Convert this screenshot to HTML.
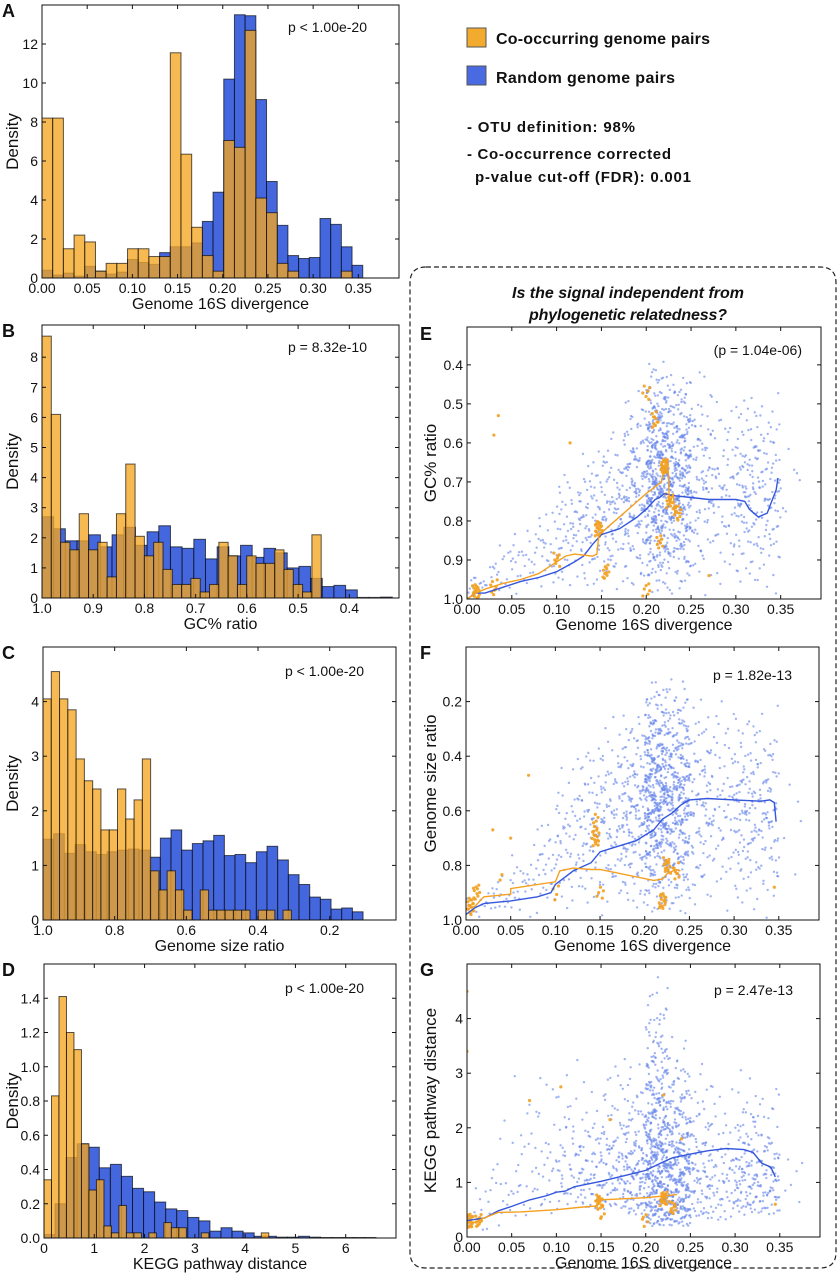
<!DOCTYPE html>
<html><head><meta charset="utf-8"><style>
html,body{margin:0;padding:0;background:#fff;}
svg{display:block;font-family:"Liberation Sans",sans-serif;}
</style></head><body>
<svg id="fig" width="839" height="1280" viewBox="0 0 839 1280" xmlns="http://www.w3.org/2000/svg">
<g>
<rect x="467" y="28" width="19" height="19" fill="#f2ab2e" stroke="#555"/>
<text x="496" y="44" font-size="16" font-weight="bold" fill="#111" textLength="214">Co-occurring genome pairs</text>
<rect x="467" y="66" width="19" height="19" fill="#4a6ae2" stroke="#555"/>
<text x="496" y="83" font-size="16" font-weight="bold" fill="#111" textLength="179">Random genome pairs</text>
<text x="467" y="132" font-size="15" font-weight="bold" fill="#111" textLength="168">- OTU definition: 98%</text>
<text x="467" y="159" font-size="15" font-weight="bold" fill="#111" textLength="204">- Co-occurrence corrected</text>
<text x="475" y="182" font-size="15" font-weight="bold" fill="#111" textLength="216">p-value cut-off (FDR): 0.001</text>
</g>
<path d="M426,267 H820 Q836,267 836,283 V1252 Q836,1268 820,1268 H426 Q410,1268 410,1252 V283 Q410,267 426,267 Z" fill="none" stroke="#222" stroke-width="1.2" stroke-dasharray="5,3"/>
<text x="628" y="298" font-size="16" font-weight="bold" font-style="italic" text-anchor="middle" fill="#111" textLength="232">Is the signal independent from</text>
<text x="628" y="320" font-size="16" font-weight="bold" font-style="italic" text-anchor="middle" fill="#111" textLength="198">phylogenetic relatedness?</text>
</svg>
<script>
// ---------- Histogram data ----------
const aOrange = [8.2,8.2,1.5,2.2,1.85,0.35,0.75,0.75,1.5,1.5,1.1,1.1,11.55,6.35,2.6,1.15,0.35,7.05,6.7,12.7,4.1,3.35,0.75,0.35,0,0,0,0,0.35,0];
const aBlue = [0.4,0.15,0.25,0.1,0.6,0.35,0.2,0.3,0.95,0.8,0.7,1.3,1.6,1.6,1.8,2.9,4.4,10.2,13.5,13.45,9.15,4.95,2.7,1.15,1.0,1.05,3.05,2.75,1.6,0.65];
const bOrange = [8.7,6.1,1.85,1.6,2.8,1.6,1.85,0.7,2.8,4.45,2.05,1.4,1.85,0.95,0.45,0.45,0.65,0.2,0.45,1.85,1.4,0.45,1.4,1.15,1.15,1.6,0.95,0.45,0.2,2.1];
const bBlue = [2.7,2.3,1.9,1.9,2.1,1.7,2.1,2.35,1.75,2.2,2.4,1.7,1.65,1.95,1.3,1.7,1.4,1.75,1.35,1.65,1.5,1.0,1.05,0.65,0.38,0.42,0.27,0.02,0.02,0.03];
const cOrange = [4.05,4.55,4.05,3.85,2.95,2.55,2.4,1.65,1.65,2.4,1.85,2.2,2.95,0.9,0.55,0.9,0.55,0.18,0,0.55,0.18,0.18,0.18,0.18,0.18,0,0.18,0.18,0,0.18];
const cBlue = [1.48,1.58,1.22,1.38,1.25,1.2,1.25,1.28,1.3,1.28,1.15,1.5,1.65,1.28,1.4,1.45,1.55,1.18,1.2,1.05,1.25,1.35,1.1,0.83,0.65,0.42,0.38,0.2,0.22,0.15];
const dOrange = [0.34,0.83,1.41,1.2,1.1,0.55,0.28,0.34,0.07,0.03,0.19,0.03,0.03,0,0.03,0,0.09,0.06,0.06,0,0,0.03,0,0,0,0,0,0,0,0.03];
const dBlue = [0.02,0.2,0.47,0.55,0.53,0.41,0.43,0.36,0.29,0.27,0.21,0.17,0.16,0.12,0.1,0.04,0.06,0.04,0.03,0.01,0.01,0.005,0.005,0.01,0.005,0.003,0.003,0.003,0.003,0.003];
const histBins = {A:[0,0.01183,0,0.01183], B:[1.0,-0.01817,1.0,-0.0228], C:[1.0,-0.0231,1.0,-0.02977], D:[0,0.149,0,0.22]};

// ---------- Scatter data (per 0.025-wide divergence bin: count, y-low, y-high) ----------
const scatBinStart = [0,0.025,0.05,0.075,0.1,0.125,0.15,0.175,0.2,0.225,0.25,0.275,0.3,0.325,0.35];
const scatCounts = [12,18,22,30,50,70,90,150,480,340,100,60,110,90,6];
const eLow = [0.93,0.85,0.8,0.75,0.65,0.6,0.55,0.45,0.38,0.4,0.4,0.45,0.45,0.45,0.55];
const eHigh = [1.0,1.0,1.0,1.0,1.0,1.0,1.0,1.0,1.0,1.0,1.0,1.0,1.0,1.0,0.85];
const fLow = [0.9,0.82,0.75,0.6,0.4,0.3,0.25,0.2,0.1,0.1,0.15,0.15,0.2,0.2,0.4];
const fHigh = [1.0,1.0,1.0,1.0,1.0,1.0,1.0,1.0,1.0,1.0,1.0,1.0,1.0,1.0,0.9];
const gLow = [0.1,0.2,0.3,0.4,0.5,0.5,0.5,0.4,0.2,0.2,0.3,0.3,0.4,0.4,0.6];
const gHigh = [1.2,2.5,3.5,3.5,3.5,3.0,3.5,3.5,4.9,3.8,3.5,3.0,3.2,3.0,1.8];
// orange clusters: x, y, n
const eOrangeX = [0.01,0.03,0.1,0.147,0.155,0.2,0.21,0.22,0.226,0.235,0.215,0.2,0.03,0.035,0.115,0.27];
const eOrangeY = [0.98,0.97,0.9,0.82,0.93,0.47,0.54,0.66,0.75,0.78,0.85,0.98,0.58,0.53,0.6,0.94];
const eOrangeN = [15,8,8,20,10,6,10,20,10,10,8,6,1,1,1,1];
const fOrangeX = [0.005,0.012,0.145,0.145,0.15,0.1,0.225,0.22,0.235,0.07,0.03,0.05,0.04,0.345];
const fOrangeY = [0.95,0.9,0.7,0.64,0.9,0.9,0.8,0.93,0.82,0.47,0.67,0.7,0.85,0.88];
const fOrangeN = [15,10,15,6,5,4,15,15,8,1,1,1,2,1];
const gOrangeX = [0.003,0.013,0.148,0.15,0.22,0.23,0.2,0.0,0.0,0.07,0.105,0.16,0.22,0.24,0.345];
const gOrangeY = [0.3,0.3,0.65,0.45,0.7,0.55,0.3,4.5,3.4,2.5,2.75,2.15,2.6,1.8,0.6];
const gOrangeN = [20,10,15,5,20,10,5,1,1,1,1,1,1,1,1];
// running-mean lines
const eBlueLX = [0,0.01,0.02,0.04,0.06,0.08,0.1,0.12,0.13,0.14,0.15,0.17,0.19,0.2,0.21,0.215,0.22,0.23,0.25,0.27,0.3,0.31,0.315,0.325,0.335,0.34,0.345,0.347];
const eBlueLY = [1.0,0.985,0.985,0.97,0.955,0.945,0.93,0.905,0.89,0.86,0.835,0.82,0.79,0.77,0.745,0.74,0.73,0.735,0.74,0.745,0.745,0.75,0.77,0.79,0.78,0.75,0.72,0.69];
const eOrLX = [0,0.01,0.02,0.04,0.06,0.08,0.1,0.11,0.12,0.14,0.145,0.147,0.15,0.155,0.2,0.217,0.22,0.224,0.226,0.23,0.232,0.24];
const eOrLY = [1.0,0.985,0.975,0.96,0.95,0.935,0.905,0.89,0.885,0.89,0.885,0.84,0.83,0.82,0.73,0.7,0.66,0.64,0.76,0.73,0.78,0.78];
const fBlueLX = [0,0.01,0.02,0.05,0.08,0.095,0.1,0.12,0.14,0.15,0.17,0.19,0.2,0.21,0.22,0.23,0.24,0.25,0.27,0.3,0.33,0.34,0.345,0.347];
const fBlueLY = [0.98,0.955,0.94,0.93,0.915,0.9,0.87,0.82,0.79,0.75,0.73,0.71,0.69,0.67,0.63,0.61,0.58,0.56,0.555,0.56,0.565,0.56,0.57,0.64];
const fOrLX = [0,0.01,0.02,0.05,0.05,0.1,0.105,0.12,0.14,0.15,0.21,0.22,0.225,0.235,0.24];
const fOrLY = [0.96,0.95,0.915,0.905,0.885,0.86,0.82,0.81,0.815,0.815,0.855,0.85,0.83,0.815,0.82];
const gBlueLX = [0,0.02,0.035,0.05,0.07,0.09,0.1,0.11,0.12,0.15,0.18,0.2,0.21,0.22,0.23,0.25,0.27,0.29,0.31,0.32,0.33,0.34,0.345];
const gBlueLY = [0.3,0.35,0.48,0.56,0.68,0.76,0.82,0.84,0.92,1.02,1.14,1.22,1.3,1.38,1.45,1.52,1.58,1.62,1.6,1.55,1.35,1.28,1.1];
const gOrLX = [0,0.012,0.015,0.035,0.06,0.1,0.13,0.145,0.148,0.2,0.22,0.235];
const gOrLY = [0.25,0.28,0.32,0.45,0.46,0.5,0.55,0.57,0.68,0.72,0.75,0.78];

// ---------- ticks ----------
const divTicks = [0,0.05,0.1,0.15,0.2,0.25,0.3,0.35];
const divTickLabels = ["0.00","0.05","0.10","0.15","0.20","0.25","0.30","0.35"];

const NS = "http://www.w3.org/2000/svg";
const svg = document.getElementById('fig');
function mk(tag, attrs, parent){
  const e = document.createElementNS(NS, tag);
  for (const k in attrs) e.setAttribute(k, attrs[k]);
  (parent||svg).appendChild(e);
  return e;
}
function halton(i,b){let f=1,r=0;while(i>0){f/=b;r+=f*(i%b);i=Math.floor(i/b);}return r;}

function makePanel(p){
  const g = mk('g', {});
  
  
  p.sx = v => p.L + (v - p.xd[0]) / (p.xd[1] - p.xd[0]) * (p.R - p.L);
  p.sy = v => p.B - (v - p.yd[0]) / (p.yd[1] - p.yd[0]) * (p.B - p.T);
  p.g = g;
  const clip = mk('clipPath', {id:'clip'+p.id}, g);
  mk('rect', {x:p.L, y:p.T, width:p.R-p.L, height:p.B-p.T}, clip);
  p.plot = mk('g', {'clip-path':'url(#clip'+p.id+')'}, g);
  
  
  return p;
}
function finishPanel(p){
  const g = p.g;
  const fr = mk('rect', {x:p.L, y:p.T, width:p.R-p.L, height:p.B-p.T, fill:'none', stroke:'#111', 'stroke-width':1}, g);
  
  
  p.xt.forEach((v,i)=>{
    const x = p.sx(v);
    mk('line', {x1:x, x2:x, y1:p.B, y2:p.B-4, stroke:'#111'}, g);
    mk('line', {x1:x, x2:x, y1:p.T, y2:p.T+4, stroke:'#111'}, g);
    const t = mk('text', {x:x, y:p.B+15, 'font-size':14, 'text-anchor':'middle', fill:'#111'}, g);
    t.textContent = p.xl[i];
    
    
  });
  p.yt.forEach((v,i)=>{
    const y = p.sy(v);
    mk('line', {x1:p.L, x2:p.L+4, y1:y, y2:y, stroke:'#111'}, g);
    mk('line', {x1:p.R, x2:p.R-4, y1:y, y2:y, stroke:'#111'}, g);
    const t = mk('text', {x:p.L-4, y:y+5, 'font-size':14, 'text-anchor':'end', fill:'#111'}, g);
    t.textContent = p.yl[i];
    
    
  });
  const xt = mk('text', {x:(p.L+p.R)/2, y:p.B+31, 'font-size':16, 'text-anchor':'middle', fill:'#111'}, g);
  xt.textContent = p.xtitle;
  
  
  const cy = (p.T+p.B)/2, cx = p.ylx;
  const yt = mk('text', {x:cx, y:cy, 'font-size':17, 'text-anchor':'middle', fill:'#111', transform:'rotate(-90 '+cx+' '+cy+')'}, g);
  yt.textContent = p.ytitle;
  
  
  const pv = mk('text', {x:p.R-p.pvr, y:p.T+p.pvy, 'font-size':14, 'text-anchor':'end', fill:'#111'}, g);
  pv.textContent = p.pval;
  
  
  const lt = mk('text', {x:p.lx, y:p.ly, 'font-size':18, 'font-weight':'bold', fill:'#111'}, g);
  lt.textContent = p.id;
  
  
}
function drawHist(p, vals, start, w, fill, op, name){
  vals.forEach((v,i)=>{
    if (v <= 0) return;
    const a = p.sx(start + i*w), b = p.sx(start + (i+1)*w);
    const r = mk('rect', {x:Math.min(a,b), y:p.sy(v), width:Math.abs(b-a), height:p.sy(0)-p.sy(v), fill:fill, 'fill-opacity':op, stroke:'#000', 'stroke-opacity':0.65, 'stroke-width':1}, p.plot);
    
    
  });
}
let hIdx = 1;
function drawScatter(p, lows, highs, skew){
  scatCounts.forEach((n,k)=>{
    for (let j=0;j<n;j++){
      hIdx++;
      const x = scatBinStart[k] + halton(hIdx,2)*0.025;
      let t = (halton(hIdx,3)+halton(hIdx,5))/2;
      t = Math.pow(t, skew);
      const y = lows[k] + (highs[k]-lows[k])*t;
      const c = mk('circle', {cx:p.sx(x), cy:p.sy(y), r:1.2, fill:'#6382ea', 'fill-opacity':0.6}, p.plot);
      
      
    }
  });
}
function drawClusters(p, xs, ys, ns, ysp){
  xs.forEach((x0,k)=>{
    for (let j=0;j<ns[k];j++){
      hIdx++;
      const x = x0 + (ns[k]>1 ? (halton(hIdx,2)-0.5)*0.008 : 0);
      const y = ys[k] + (ns[k]>1 ? (halton(hIdx,3)-0.5)*ysp : 0);
      const c = mk('circle', {cx:p.sx(x), cy:p.sy(y), r:1.6, fill:'#f2a020', 'fill-opacity':0.9}, p.plot);
      
      
    }
  });
}
function drawLine(p, xs, ys, color, name){
  const pts = xs.map((x,i)=>p.sx(x).toFixed(1)+','+p.sy(ys[i]).toFixed(1)).join(' ');
  const l = mk('polyline', {points:pts, fill:'none', stroke:color, 'stroke-width':1.4}, p.plot);
  
  
}

// Panel A
const pA = makePanel({id:'A', L:42,R:399,T:5,B:278, xd:[0,0.395], yd:[0,14],
  xt:divTicks, xl:divTickLabels, yt:[0,2,4,6,8,10,12], yl:["0","2","4","6","8","10","12"],
  xtitle:'Genome 16S divergence', ytitle:'Density', ylx:18, pval:'p < 1.00e-20', pvr:32, pvy:27, lx:2, ly:17});
drawHist(pA, aBlue, histBins.A[2], histBins.A[3], '#4567de', 1, 'bar-random');
drawHist(pA, aOrange, histBins.A[0], histBins.A[1], '#f5a623', 0.78, 'bar-co-occurring');
finishPanel(pA);
// Panel B
const pB = makePanel({id:'B', L:42,R:399,T:325,B:598, xd:[1.0,0.303], yd:[0,9.07],
  xt:[1.0,0.9,0.8,0.7,0.6,0.5,0.4], xl:["1.0","0.9","0.8","0.7","0.6","0.5","0.4"], yt:[0,1,2,3,4,5,6,7,8], yl:["0","1","2","3","4","5","6","7","8"],
  xtitle:'GC% ratio', ytitle:'Density', ylx:18, pval:'p = 8.32e-10', pvr:32, pvy:27, lx:2, ly:337});
drawHist(pB, bBlue, histBins.B[2], histBins.B[3], '#4567de', 1, 'bar-random');
drawHist(pB, bOrange, histBins.B[0], histBins.B[1], '#f5a623', 0.78, 'bar-co-occurring');
finishPanel(pB);
// Panel C
const pC = makePanel({id:'C', L:43,R:396,T:647,B:920, xd:[1.0,0.015], yd:[0,5.0],
  xt:[1.0,0.8,0.6,0.4,0.2], xl:["1.0","0.8","0.6","0.4","0.2"], yt:[0,1,2,3,4], yl:["0","1","2","3","4"],
  xtitle:'Genome size ratio', ytitle:'Density', ylx:18, pval:'p < 1.00e-20', pvr:32, pvy:29, lx:2, ly:659});
drawHist(pC, cBlue, histBins.C[2], histBins.C[3], '#4567de', 1, 'bar-random');
drawHist(pC, cOrange, histBins.C[0], histBins.C[1], '#f5a623', 0.78, 'bar-co-occurring');
finishPanel(pC);
// Panel D
const pD = makePanel({id:'D', L:44,R:396,T:964,B:1238, xd:[0,7.0], yd:[0,1.6],
  xt:[0,1,2,3,4,5,6], xl:["0","1","2","3","4","5","6"], yt:[0,0.2,0.4,0.6,0.8,1.0,1.2,1.4], yl:["0.0","0.2","0.4","0.6","0.8","1.0","1.2","1.4"],
  xtitle:'KEGG pathway distance', ytitle:'Density', ylx:18, pval:'p < 1.00e-20', pvr:32, pvy:29, lx:2, ly:976});
drawHist(pD, dBlue, histBins.D[2], histBins.D[3], '#4567de', 1, 'bar-random');
drawHist(pD, dOrange, histBins.D[0], histBins.D[1], '#f5a623', 0.78, 'bar-co-occurring');
finishPanel(pD);
// Panel E
const pE = makePanel({id:'E', L:467,R:821,T:327,B:599, xd:[0,0.395], yd:[1.0,0.303],
  xt:divTicks, xl:divTickLabels, yt:[0.4,0.5,0.6,0.7,0.8,0.9,1.0], yl:["0.4","0.5","0.6","0.7","0.8","0.9","1.0"],
  xtitle:'Genome 16S divergence', ytitle:'GC% ratio', ylx:436, pval:'(p = 1.04e-06)', pvr:19, pvy:28, lx:420, ly:340});
drawScatter(pE, eLow, eHigh, 1);
drawClusters(pE, eOrangeX, eOrangeY, eOrangeN, 0.04);
drawLine(pE, eBlueLX, eBlueLY, '#3557dc', 'running-mean-random');
drawLine(pE, eOrLX, eOrLY, '#f5a020', 'running-mean-co-occurring');
finishPanel(pE);
// Panel F
const pF = makePanel({id:'F', L:466,R:819,T:647,B:920, xd:[0,0.395], yd:[1.0,0.0],
  xt:divTicks, xl:divTickLabels, yt:[0.2,0.4,0.6,0.8,1.0], yl:["0.2","0.4","0.6","0.8","1.0"],
  xtitle:'Genome 16S divergence', ytitle:'Genome size ratio', ylx:436, pval:'p = 1.82e-13', pvr:27, pvy:33, lx:420, ly:659});
drawScatter(pF, fLow, fHigh, 1);
drawClusters(pF, fOrangeX, fOrangeY, fOrangeN, 0.06);
drawLine(pF, fBlueLX, fBlueLY, '#3557dc', 'running-mean-random');
drawLine(pF, fOrLX, fOrLY, '#f5a020', 'running-mean-co-occurring');
finishPanel(pF);
// Panel G
const pG = makePanel({id:'G', L:467,R:820,T:964,B:1237, xd:[0,0.395], yd:[0,5.0],
  xt:divTicks, xl:divTickLabels, yt:[0,1,2,3,4], yl:["0","1","2","3","4"],
  xtitle:'Genome 16S divergence', ytitle:'KEGG pathway distance', ylx:436, pval:'p = 2.47e-13', pvr:27, pvy:31, lx:420, ly:976});
drawScatter(pG, gLow, gHigh, 1.8);
drawClusters(pG, gOrangeX, gOrangeY, gOrangeN, 0.25);
drawLine(pG, gBlueLX, gBlueLY, '#3557dc', 'running-mean-random');
drawLine(pG, gOrLX, gOrLY, '#f5a020', 'running-mean-co-occurring');
finishPanel(pG);
</script>
</body></html>
